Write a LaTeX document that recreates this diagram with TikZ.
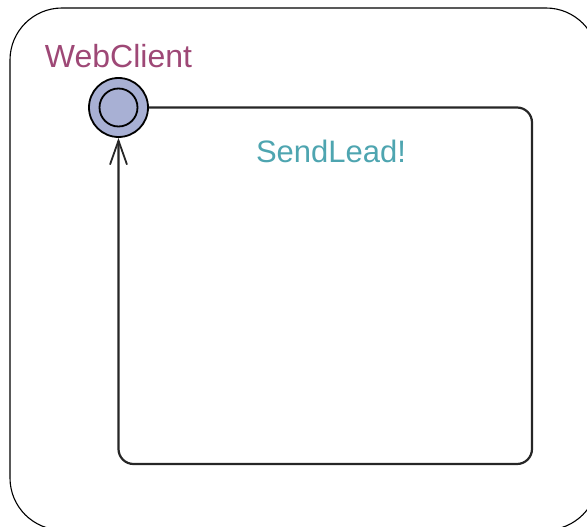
\documentclass[tikz,border=0pt]{standalone}
\usepackage{fontspec}
\setmainfont{Liberation Sans}
\usetikzlibrary{arrows.meta}
\definecolor{locname}{RGB}{158,72,118}
\definecolor{syncname}{RGB}{78,165,176}
\definecolor{locfill}{RGB}{168,176,212}
\tikzset{
  frame/.style={draw=black, line width=1.1pt, rounded corners=52pt},
  initloc/.style={circle, draw=black, line width=1.8pt, fill=locfill, inner sep=0pt},
  edge/.style={draw=black!85, line width=2.2pt, rounded corners=15pt},
  locname/.style={text=locname, font=\fontsize{32}{36}\selectfont, anchor=base},
  synclabel/.style={text=syncname, font=\fontsize{31}{36}\selectfont, anchor=base},
}
\begin{document}
\begin{tikzpicture}[x=1pt, y=-1pt]
  \useasboundingbox (0,0) rectangle (587,527);
  % template frame
  \draw[frame] (10,8) rectangle (598,530);
  % initial location
  \node[initloc, minimum size=59pt] (init) at (118.5,107.5) {};
  \node[circle, draw=black, line width=1.8pt, inner sep=0pt, minimum size=38pt] (initinner) at (init.center) {};
  \node[locname] (name) at (118.5,68) {WebClient};
  % self loop
  \coordinate (ne) at (532,107.5);
  \coordinate (se) at (532,464);
  \coordinate (sw) at (118.5,464);
  \draw[edge, -{Straight Barb[length=24pt, width=17pt, line width=1.8pt]}]
    (init.east) -- (ne) -- (se) -- (sw) -- (init.south);
  \node[synclabel] (sync) at (331,162) {SendLead!};
\end{tikzpicture}
\end{document}
